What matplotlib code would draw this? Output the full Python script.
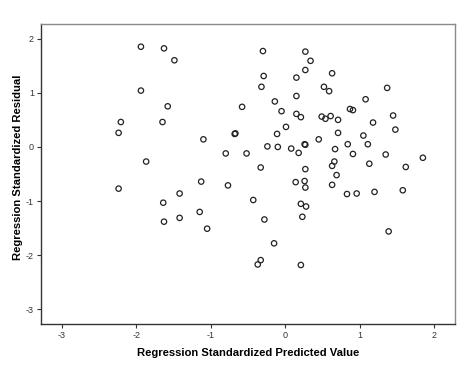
import matplotlib
matplotlib.use('Agg')
import matplotlib.pyplot as plt

# Valores (preditos padronizados x residuos padronizados)
pred = [-1.94, -1.63, -1.49, -1.94, -1.58, -2.21, -1.65, -2.24, -1.87, -2.24,
        -1.64, -1.42, -1.63, -1.42,
        -0.30, -0.29, -0.32, -0.14, -0.58, -0.05, 0.01, -0.68, -0.67, -0.11,
        -1.10, -0.24, -0.10, 0.08, 0.18, -0.80, -0.52, -0.33, -1.13, -0.77,
        -0.43, -1.15, -1.05, -0.28, -0.15, -0.33, -0.37,
        0.27, 0.34, 0.27, 0.15, 0.15, 0.15, 0.21, 0.26, 0.27, 0.27, 0.14,
        0.26, 0.27, 0.21, 0.28, 0.23, 0.21,
        0.63, 1.37, 0.52, 0.59, 1.08, 0.87, 0.91, 0.49, 0.54, 0.61, 0.71,
        1.18, 1.45, 1.48, 0.71, 1.05, 0.45, 0.84, 1.11, 0.67, 0.91, 1.35,
        1.85, 0.66, 0.63, 1.13, 1.62, 0.69, 0.63, 0.83, 0.96, 1.20, 1.58, 1.39]
resid = [1.85, 1.82, 1.60, 1.04, 0.75, 0.46, 0.46, 0.26, -0.27, -0.77,
         -1.03, -0.86, -1.38, -1.31,
         1.77, 1.31, 1.11, 0.84, 0.74, 0.66, 0.37, 0.24, 0.25, 0.24,
         0.14, 0.01, 0.00, -0.03, -0.11, -0.12, -0.12, -0.38, -0.64, -0.71,
         -0.98, -1.20, -1.51, -1.34, -1.78, -2.09, -2.17,
         1.76, 1.59, 1.42, 1.28, 0.94, 0.61, 0.55, 0.05, 0.04, -0.41, -0.65,
         -0.63, -0.75, -1.05, -1.10, -1.29, -2.18,
         1.36, 1.09, 1.11, 1.03, 0.88, 0.70, 0.68, 0.56, 0.52, 0.57, 0.50,
         0.45, 0.58, 0.32, 0.26, 0.21, 0.14, 0.05, 0.05, -0.04, -0.13, -0.14,
         -0.20, -0.27, -0.35, -0.31, -0.37, -0.52, -0.70, -0.87, -0.86, -0.83, -0.80, -1.56]
ticks = [-3, -2, -1, 0, 1, 2]

plt.rcParams['font.family'] = ['Liberation Sans', 'DejaVu Sans']
plt.rcParams['axes.unicode_minus'] = False

fig = plt.figure(figsize=(4.6, 3.87), dpi=100)
ax = fig.add_axes([0.089, 0.163, 0.900, 0.776])

ax.scatter(pred, resid, s=15, facecolors='none', edgecolors='#222222', linewidths=0.9)

ax.set_xlim(-3.284, 2.281)
ax.set_ylim(-3.268, 2.277)
ax.set_xticks(ticks)
ax.set_yticks(ticks)
ax.tick_params(labelsize=6.5, length=3, width=0.8, colors='#333333', pad=2)

for s in ['left', 'bottom']:
    ax.spines[s].set_color('#333333')
    ax.spines[s].set_linewidth(1.0)
for s in ['top', 'right']:
    ax.spines[s].set_color('#8a8a8a')
    ax.spines[s].set_linewidth(1.0)

ax.set_xlabel('Regression Standardized Predicted Value', fontsize=8.1, fontweight='bold', labelpad=6)
ax.set_ylabel('Regression Standardized Residual', fontsize=8.1, fontweight='bold')
ax.yaxis.set_label_coords(-0.043, 0.522)

fig.savefig('out.png', dpi=100)
